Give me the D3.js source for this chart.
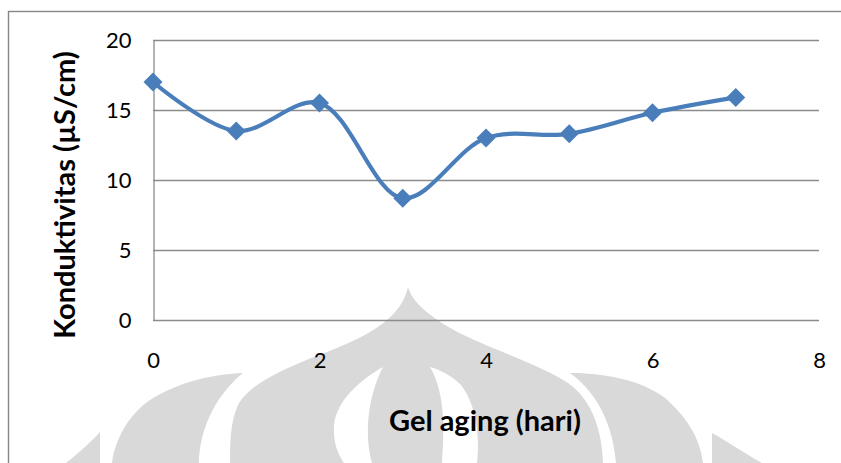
<!DOCTYPE html>
<html>
<head>
<meta charset="utf-8">
<script src="https://cdn.jsdelivr.net/npm/d3@7"></script>
<style>
  html, body { margin: 0; padding: 0; background: #ffffff; }
  svg { display: block; }
</style>
</head>
<body>
<script>
// Gel aging time (days) vs. conductivity (µS/cm)
const agingDays = [0, 1, 2, 3, 4, 5, 6, 7];
const conductivity = [17.0, 13.5, 15.5, 8.7, 13.0, 13.3, 14.8, 15.9];
const xTicks = [0, 2, 4, 6, 8];
const yTicks = [0, 5, 10, 15, 20];
const xTitle = "Gel aging (hari)";
const yTitle = "Konduktivitas (µS/cm)";

const W = 841, H = 463;
const margin = { left: 153, right: 22, top: 40, bottom: 143 };
const fontFamily = "Lato, 'Open Sans', sans-serif";
const blue = "#4a7ebb";
const gridColor = "#8c8c8c";

const svg = d3.select("body").append("svg")
  .attr("width", W).attr("height", H);

// chart area frame (extends past the right and bottom edges)
svg.append("rect")
  .attr("x", 8.5).attr("y", 11.5)
  .attr("width", W + 20).attr("height", H + 20)
  .attr("fill", "#ffffff")
  .attr("stroke", "#868686").attr("stroke-width", 1.4);

// faint emblem behind the chart
const emblem = svg.append("g").attr("fill", "#d9d9d9");
[
  "M100,432 C92,441 80,452 66,463 L100,463 Z",
  "M243,373 C215,374 180,381 150,400 C128,415 115,440 112,463 L199,463 C199,435 212,398 243,373 Z",
  "M408,287 C402,315 375,333 332,350 C285,368 250,383 238,405 C230,422 230,445 230,463 L603,463 C602,430 592,400 568,383 C540,364 478,345 445,325 C422,310 412,300 408,287 Z",
  "M570,373 C602,373 640,379 665,398 C690,420 700,440 703,463 L616,463 C613,428 600,395 570,373 Z",
  "M712,433 L712,463 L762,463 C747,455 727,441 712,433 Z"
].forEach(d => emblem.append("path").attr("d", d));
const emblemHoles = svg.append("g").attr("fill", "#ffffff");
[
  "M383,367 C360,380 337,400 334,425 C333,445 339,455 344,463 L372,463 C365,438 366,400 383,367 Z",
  "M430,367 C446,395 444,430 442,463 L477,463 C480,440 477,405 461,385 C452,376 441,370 430,367 Z"
].forEach(d => emblemHoles.append("path").attr("d", d));

const x = d3.scaleLinear().domain([0, 8]).range([margin.left, W - margin.right]);
const y = d3.scaleLinear().domain([0, 20]).range([H - margin.bottom, margin.top]);

// horizontal gridlines
svg.append("g").selectAll("line").data(yTicks).join("line")
  .attr("x1", x(0)).attr("x2", x(8))
  .attr("y1", d => Math.round(y(d)) + 0.5).attr("y2", d => Math.round(y(d)) + 0.5)
  .attr("stroke", gridColor).attr("stroke-width", 1.3);

// y axis
const yAxis = svg.append("g")
  .attr("transform", `translate(${Math.round(x(0)) + 0.5},0)`)
  .call(d3.axisLeft(y).tickValues(yTicks).tickSize(0).tickPadding(22));
yAxis.select(".domain").attr("stroke", gridColor).attr("stroke-width", 1.3);
yAxis.selectAll("text")
  .attr("font-family", fontFamily).attr("font-size", 22).attr("fill", "#000");

// x axis labels (no line of its own; the 0 gridline serves as baseline)
const xAxis = svg.append("g")
  .attr("transform", `translate(0,${y(0)})`)
  .call(d3.axisBottom(x).tickValues(xTicks).tickSize(0).tickPadding(32));
xAxis.select(".domain").remove();
xAxis.selectAll("text")
  .attr("font-family", fontFamily).attr("font-size", 22).attr("fill", "#000");

// axis titles
svg.append("text")
  .attr("x", 485).attr("y", 431)
  .attr("text-anchor", "middle")
  .attr("font-family", fontFamily).attr("font-weight", "bold")
  .attr("font-size", 29).attr("fill", "#000")
  .text(xTitle);

svg.append("text")
  .attr("transform", `translate(75,${195}) rotate(-90)`)
  .attr("text-anchor", "middle")
  .attr("font-family", fontFamily).attr("font-weight", "bold")
  .attr("font-size", 29).attr("fill", "#000")
  .text(yTitle);

// data series: smoothed line with diamond markers
const pts = agingDays.map((d, i) => [d, conductivity[i]]);
const line = d3.line()
  .x(d => x(d[0])).y(d => y(d[1]))
  .curve(d3.curveCatmullRom.alpha(0.5));

svg.append("path")
  .datum(pts)
  .attr("d", line)
  .attr("fill", "none")
  .attr("stroke", blue)
  .attr("stroke-width", 4.2)
  .attr("stroke-linejoin", "round");

const diamond = d3.symbol().type(d3.symbolDiamond2).size(230);
svg.append("g").selectAll("path").data(pts).join("path")
  .attr("transform", d => `translate(${x(d[0])},${y(d[1])})`)
  .attr("d", diamond)
  .attr("fill", blue);
</script>
</body>
</html>
